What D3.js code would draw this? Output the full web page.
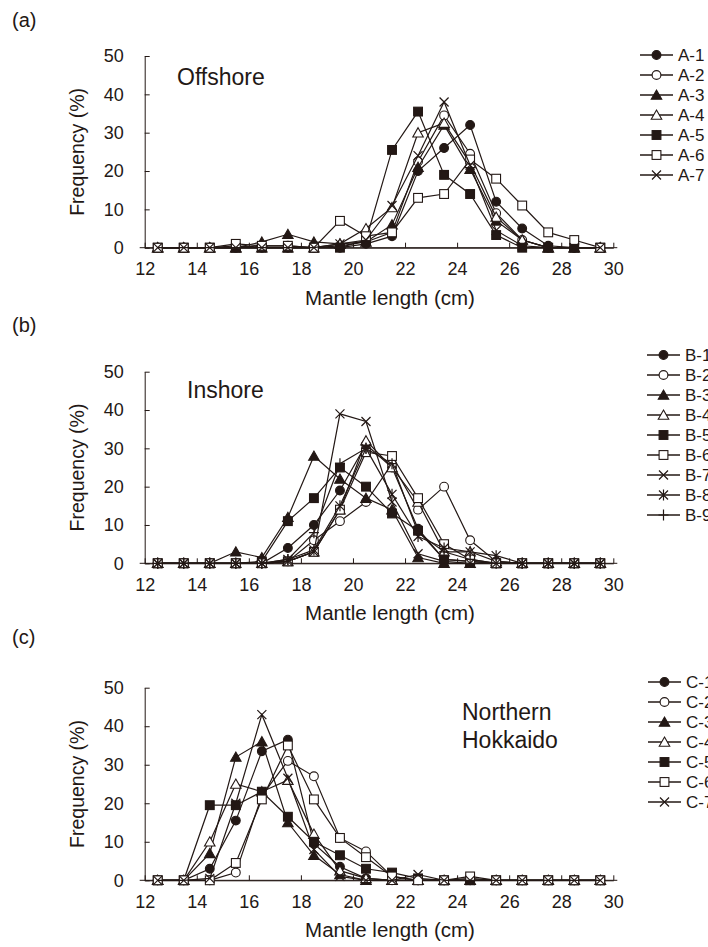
<!DOCTYPE html>
<html><head><meta charset="utf-8">
<script src="https://cdn.jsdelivr.net/npm/d3@7"></script>
<style>
body{margin:0;background:#fff;}
svg{display:block;font-family:"Liberation Sans",Arial,sans-serif;}
</style></head>
<body>
<svg id="chart" width="708" height="947"></svg>
<script>
// Class midpoints (cm)
const lengths = [12.5,13.5,14.5,15.5,16.5,17.5,18.5,19.5,20.5,21.5,22.5,23.5,24.5,25.5,26.5,27.5,28.5,29.5];
const xTicks = [12,14,16,18,20,22,24,26,28,30];
const yTicks = [0,10,20,30,40,50];

// (a) Offshore
const namesA = ["A-1","A-2","A-3","A-4","A-5","A-6","A-7"];
const A1 = [0,0,0,0,0.5,0.5,0,0,1,3,20,26,32,12,5,0.5,0,0];
const A2 = [0,0,0,0.5,0,0,0,0.5,1.5,4,22.5,34.5,24.5,9,2,0,0,0];
const A3 = [0,0,0,0,1.5,3.5,1.5,1,1.5,6,21,32,20.5,7,2,0,0,0];
const A4 = [0,0,0,0,0,0,0,1,5,10.5,30,32.5,22,8,2,0,0,0];
const A5 = [0,0,0,0,0,0,0,0,2,25.5,35.5,19,14,3.3,0,0,0,0];
const A6 = [0,0,0,1,0.5,0.5,0,7,3,4,13,14,23,18,11,4,2,0];
const A7 = [0,0,0,0,0,0,0,1,2,11,24,38,21.5,4.5,0.5,0,0,0];

// (b) Inshore
const namesB = ["B-1","B-2","B-3","B-4","B-5","B-6","B-7","B-8","B-9"];
const B1 = [0,0,0,0,0,4,10,19,31,25,9,1,0.5,0,0,0,0,0];
const B2 = [0,0,0,0,0,0.5,6,11,16,26,14,20,6,0.5,0,0,0,0];
const B3 = [0,0,0,3,1.5,12,28,22,17,14,1.5,0,0,0,0,0,0,0];
const B4 = [0,0,0,0,0,0.5,3,14,32,25,16,3,3,0.5,0,0,0,0];
const B5 = [0,0,0,0,0.5,11,17,25,20,13,8.5,1,0.5,0,0,0,0,0];
const B6 = [0,0,0,0,0,0.5,3,14,29,28,17,5,1,0,0,0,0,0];
const B7 = [0,0,0,0,0,0.5,3,39,37,16,2.5,0.5,0,0,0,0,0,0];
const B8 = [0,0,0,0,0,1,3.5,15,30,18,7,4,3,2,0,0,0,0];
const B9 = [0,0,0,0,0,1,8,26,30,26,8,3,1,0,0,0,0,0];

// (c) Northern Hokkaido
const namesC = ["C-1","C-2","C-3","C-4","C-5","C-6","C-7"];
const C1 = [0,0,3,15.5,33.5,36.5,9.5,3.5,0.5,0,0,0,0,0,0,0,0,0];
const C2 = [0,0,0,2,22,31,27,11,7.5,1,0,0,0.5,0,0,0,0,0];
const C3 = [0,0,7,32,36,15,6.5,1.5,0,0,0,0,0,0,0,0,0,0];
const C4 = [0,0,10,25,23,26,12,2.5,0.5,0,0,0,0,0,0,0,0,0];
const C5 = [0,0,19.5,19.5,23,16.5,10,6.5,3,2,0.5,0,0,0,0,0,0,0];
const C6 = [0,0,0,4.5,21,35,21,11,6,1,0,0,1,0,0,0,0,0];
const C7 = [0,0,0.5,20,43,26.5,8,1,0,0,1.5,0,0,0,0,0,0,0];

const panels = [
  {label:"(a)", labelY:27, names:namesA, series:[A1,A2,A3,A4,A5,A6,A7], yTop:56, yBot:247.7,
   note:["Offshore"], noteX:177, noteY:85, legX:640, legY:55},
  {label:"(b)", labelY:332, names:namesB, series:[B1,B2,B3,B4,B5,B6,B7,B8,B9], yTop:371.7, yBot:563.3,
   note:["Inshore"], noteX:187, noteY:398, legX:647, legY:355},
  {label:"(c)", labelY:644, names:namesC, series:[C1,C2,C3,C4,C5,C6,C7], yTop:687.7, yBot:880.3,
   note:["Northern","Hokkaido"], noteX:462, noteY:720, legX:648, legY:682}
];

const INK = "#231815";
const svg = d3.select("#chart");
const x = d3.scaleLinear().domain([12,30]).range([144.7,613.3]);

function marker(g, type, cx, cy){
  const s = 4.4;
  if(type===0 || type===1){
    g.append("circle").attr("cx",cx).attr("cy",cy).attr("r",s)
     .attr("fill", type===0?INK:"#fff").attr("stroke",INK).attr("stroke-width",1.1);
  } else if(type===2 || type===3){
    const h = 5;
    g.append("path").attr("d",`M${cx},${cy-h}L${cx+h*1.05},${cy+h*0.85}L${cx-h*1.05},${cy+h*0.85}Z`)
     .attr("fill", type===2?INK:"#fff").attr("stroke",INK).attr("stroke-width",1.1);
  } else if(type===4 || type===5){
    g.append("rect").attr("x",cx-s).attr("y",cy-s).attr("width",2*s).attr("height",2*s)
     .attr("fill", type===4?INK:"#fff").attr("stroke",INK).attr("stroke-width",1.1);
  } else if(type===6){
    g.append("path").attr("d",`M${cx-4.5},${cy-4.5}L${cx+4.5},${cy+4.5}M${cx-4.5},${cy+4.5}L${cx+4.5},${cy-4.5}`)
     .attr("stroke",INK).attr("stroke-width",1.2).attr("fill","none");
  } else if(type===7){
    g.append("path").attr("d",`M${cx-4.5},${cy-4.5}L${cx+4.5},${cy+4.5}M${cx-4.5},${cy+4.5}L${cx+4.5},${cy-4.5}M${cx},${cy-5.5}L${cx},${cy+5.5}`)
     .attr("stroke",INK).attr("stroke-width",1.2).attr("fill","none");
  } else if(type===8){
    g.append("path").attr("d",`M${cx-5},${cy}L${cx+5},${cy}M${cx},${cy-5.5}L${cx},${cy+5.5}`)
     .attr("stroke",INK).attr("stroke-width",1.2).attr("fill","none");
  }
}

panels.forEach(p=>{
  const y = d3.scaleLinear().domain([0,50]).range([p.yBot,p.yTop]);
  const g = svg.append("g");

  // panel label
  g.append("text").attr("x",12).attr("y",p.labelY).attr("font-size",20).attr("fill",INK).text(p.label);

  // y axis
  const ya = g.append("g").attr("transform",`translate(${x(12)},0)`)
    .call(d3.axisLeft(y).tickValues(yTicks).tickSizeInner(-5).tickSizeOuter(0).tickPadding(21));
  ya.selectAll("path,line").attr("stroke",INK).attr("stroke-width",1);
  ya.selectAll("text").attr("font-size",18).attr("fill",INK).attr("font-family","Liberation Sans, Arial, sans-serif");

  // x axis
  const xa = g.append("g").attr("transform",`translate(0,${y(0)})`)
    .call(d3.axisBottom(x).tickValues(xTicks).tickSizeInner(-5).tickSizeOuter(0).tickPadding(15));
  xa.selectAll("path,line").attr("stroke",INK).attr("stroke-width",1);
  xa.selectAll("text").attr("font-size",18).attr("fill",INK).attr("font-family","Liberation Sans, Arial, sans-serif");
  g.append("line").attr("x1",x(12)-5).attr("x2",x(30)+4).attr("y1",y(0)).attr("y2",y(0))
    .attr("stroke",INK).attr("stroke-width",1);

  // axis titles
  g.append("text").attr("transform",`translate(84,${(p.yTop+p.yBot)/2}) rotate(-90)`)
    .attr("text-anchor","middle").attr("font-size",19.5).attr("fill",INK).text("Frequency (%)");
  g.append("text").attr("x",390).attr("y",y(0)+57).attr("text-anchor","middle")
    .attr("font-size",20.5).attr("fill",INK).text("Mantle length (cm)");

  // note
  p.note.forEach((t,i)=>{
    g.append("text").attr("x",p.noteX).attr("y",p.noteY+i*28).attr("font-size",23).attr("fill",INK).text(t);
  });

  // series
  const line = d3.line().x((d,i)=>x(lengths[i])).y(d=>y(d));
  p.series.forEach((vals,k)=>{
    const sg = g.append("g");
    sg.append("path").datum(vals).attr("d",line).attr("fill","none").attr("stroke",INK).attr("stroke-width",1.2);
    vals.forEach((v,i)=>marker(sg,k,x(lengths[i]),y(v)));
  });

  // legend
  p.names.forEach((n,k)=>{
    const ly = p.legY + k*20;
    g.append("line").attr("x1",p.legX).attr("x2",p.legX+33).attr("y1",ly).attr("y2",ly)
      .attr("stroke",INK).attr("stroke-width",1.3);
    marker(g,k,p.legX+16.5,ly);
    g.append("text").attr("x",p.legX+38).attr("y",ly).attr("dy","0.35em")
      .attr("font-size",17).attr("fill",INK).text(n);
  });
});
</script>
</body></html>
